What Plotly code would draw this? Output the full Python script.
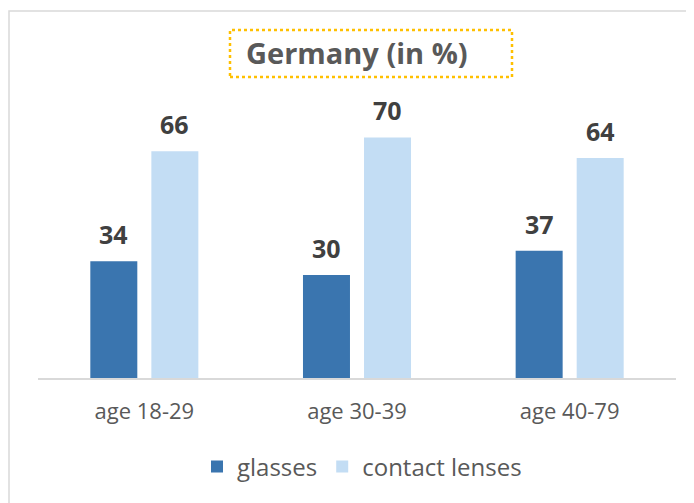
import plotly.graph_objects as go

categories = ["age 18-29", "age 30-39", "age 40-79"]
glasses = [34, 30, 37]
contact_lenses = [66, 70, 64]

bargap = 0.426
off = (1 - bargap) / 4

fig = go.Figure()
fig.add_trace(go.Bar(x=categories, y=glasses, name="glasses",
                     marker=dict(color="#3A75AF", line=dict(width=0))))
fig.add_trace(go.Bar(x=categories, y=contact_lenses, name="contact lenses",
                     marker=dict(color="#C3DDF4", line=dict(width=0))))

# value labels above bars
for series, sign in [(glasses, -1), (contact_lenses, 1)]:
    for k, v in enumerate(series):
        fig.add_annotation(x=k + sign * off, y=v, text="<b>%d</b>" % v, showarrow=False,
                           yanchor="bottom", yshift=8,
                           font=dict(size=25, color="#404040", family="Open Sans"))

# title with dotted box
fig.add_annotation(x=(357 - 38) / 638, y=(378 - 53) / 275, xref="paper", yref="paper",
                   text="<b>Germany (in %)</b>", showarrow=False, yanchor="middle",
                   font=dict(size=29, color="#595959", family="Open Sans"))
fig.add_shape(type="rect", xref="paper", yref="paper",
              x0=(230 - 38) / 638, x1=(512 - 38) / 638,
              y0=(378 - 77) / 275, y1=(378 - 30) / 275,
              line=dict(color="#FFC000", width=2.5, dash="dot"))
# chart outer border
fig.add_shape(type="rect", xref="paper", yref="paper",
              x0=(9 - 38) / 638, x1=(720 - 38) / 638,
              y0=(378 - 530) / 275, y1=(378 - 11) / 275,
              line=dict(color="#D9D9D9", width=1.5))

fig.update_layout(
    width=694, height=503,
    margin=dict(l=30, r=26, t=95, b=133, autoexpand=False),
    paper_bgcolor="white", plot_bgcolor="white",
    barmode="group", bargap=bargap, bargroupgap=0.23,
    font=dict(family="Open Sans", color="#595959"),
    showlegend=True,
    legend=dict(orientation="h", x=(362 - 38) / 638, xanchor="center",
                y=(378 - 467) / 275, yanchor="middle",
                font=dict(size=24, color="#595959"), itemwidth=30),
    xaxis=dict(showline=True, linecolor="#D9D9D9", linewidth=2, ticks="",
               tickfont=dict(size=22, color="#595959"), ticklabelstandoff=13,
               showgrid=False, zeroline=False, automargin=False),
    yaxis=dict(range=[0, 80], visible=False, showgrid=False, zeroline=False,
               automargin=False),
)

fig.write_html("out.html")
